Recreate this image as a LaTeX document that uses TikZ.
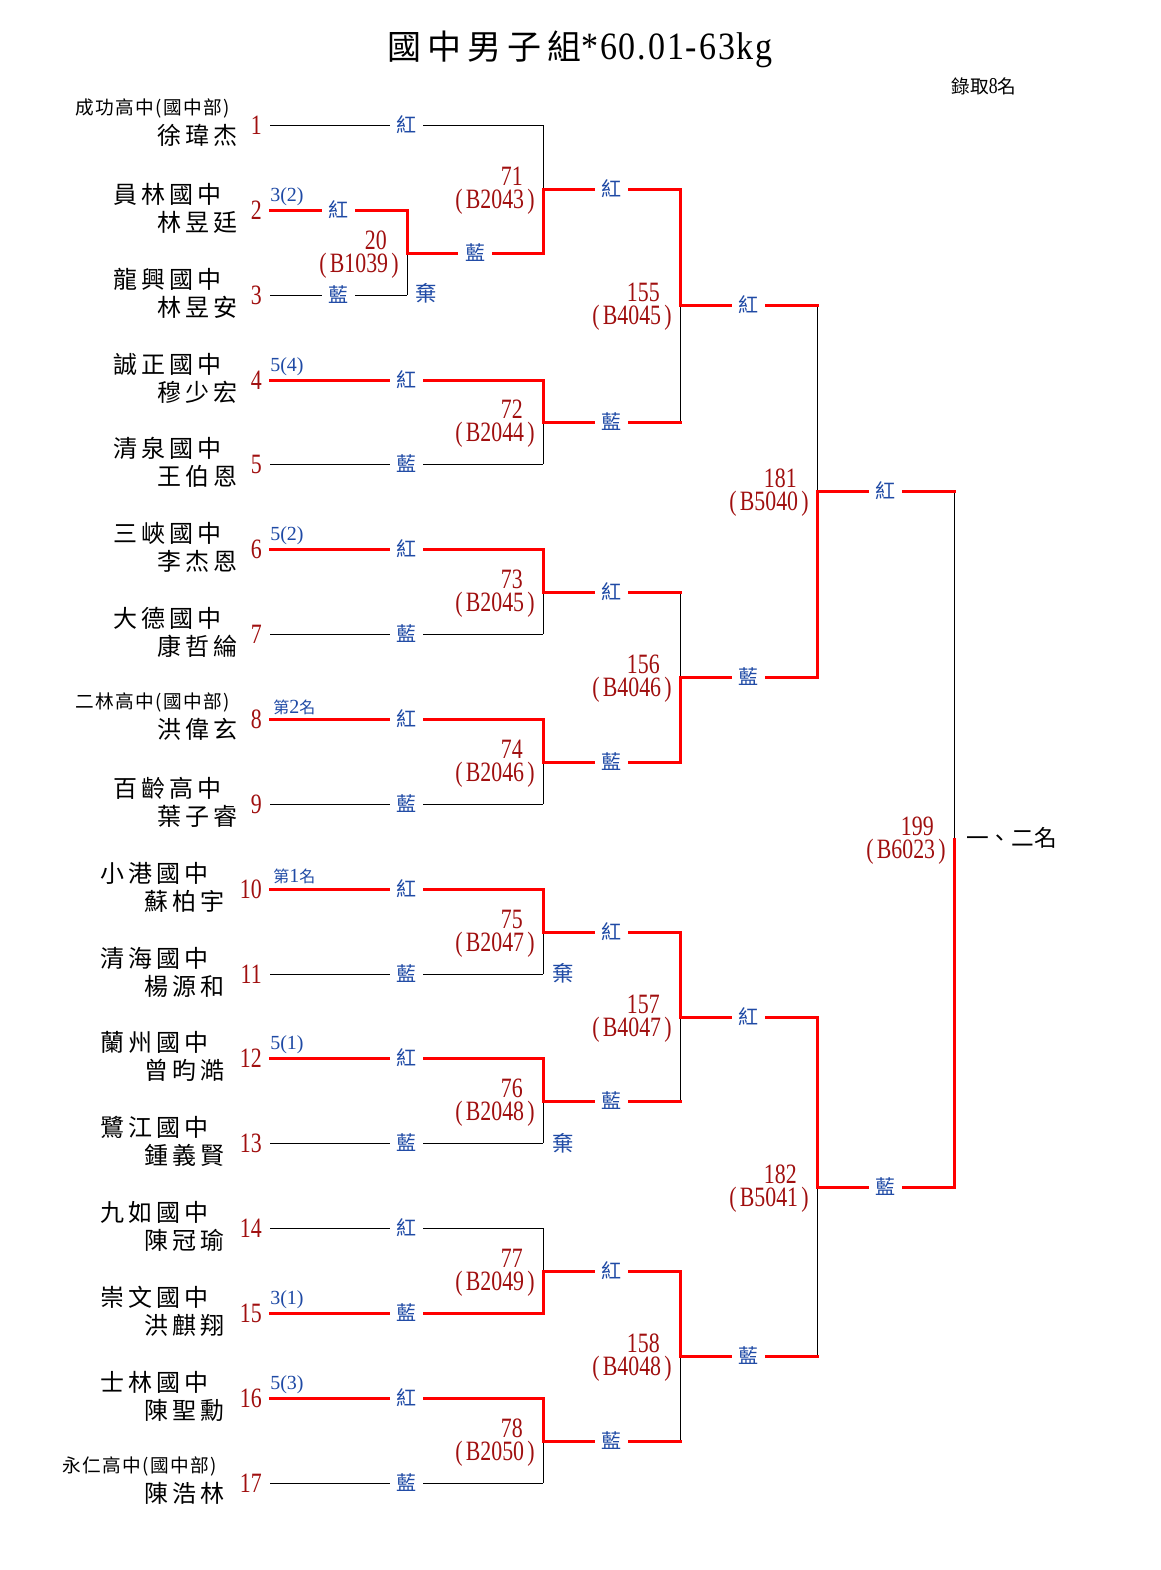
\documentclass[tikz,border=0pt]{standalone}
\usepackage{fontspec}
\setmainfont{Liberation Serif}
\newfontfamily\cjk{Noto Sans CJK TC}
\newfontfamily\numf[FakeStretch=0.78]{Liberation Serif}
\newfontfamily\titf[FakeStretch=0.88]{Liberation Serif}
\definecolor{lblue}{HTML}{1F4AA5}
\definecolor{dred}{HTML}{A00F0F}
\makeatletter
\newcommand\lsp[2]{\def\ls@gap{\hspace{#1}}\ls@loop#2\@nil}
\def\ls@loop#1{\ifx#1\@nil\else#1\expandafter\ls@next\fi}
\def\ls@next#1{\ifx#1\@nil\else\ls@gap#1\expandafter\ls@next\fi}
\makeatother
\tikzset{
  win/.style={draw=red, line width=2.25pt, line cap=rect},
  lose/.style={draw=black, line width=0.75pt},
  lab/.style={fill=white, inner xsep=5pt, inner ysep=1pt, text=lblue, font=\cjk\fontsize{15}{15}\selectfont},
  qi/.style={text=lblue, inner sep=0pt, font=\cjk\fontsize{16}{16}\selectfont},
  numst/.style={text=dred, anchor=east, inner sep=0pt, font=\numf\fontsize{21}{21}\selectfont},
  namest/.style={anchor=east, inner sep=0pt, font=\cjk\fontsize{18}{18}\selectfont},
  schsmall/.style={anchor=east, inner sep=0pt, font=\cjk\fontsize{14}{14}\selectfont},
  seed/.style={anchor=west, inner sep=0pt, text=lblue, font=\fontsize{15}{15}\selectfont},
}
% player: id, y, name right x, school, name
\newcommand\pl[5]{%
  \coordinate (e#1) at (270,#2);
  \node[numst] (n#1) at (262,#2) {#1};
  \node[namest] (s#1) at (#3-16,#2-16) {\lsp{3pt}{#4}};
  \node[namest] (p#1) at (#3,#2+12) {\lsp{3pt}{#5}};}
\newcommand\pls[5]{%
  \coordinate (e#1) at (270,#2);
  \node[numst] (n#1) at (262,#2) {#1};
  \node[schsmall] (s#1) at (#3-8,#2-17) {\lsp{1pt}{#4}};
  \node[namest] (p#1) at (#3,#2+10) {\lsp{3pt}{#5}};}
% match: id, x, top, mid, bottom, code
\newcommand\mt[6]{%
  \coordinate (m#1t) at (#2,#3);
  \coordinate (m#1m) at (#2,#4);
  \coordinate (m#1b) at (#2,#5);
  \node[numst] (l#1) at (#2-20,#4-13) {#1};
  \node[numst] (c#1) at (#2-8,#4+13) {(\hspace{2.5pt}#6\hspace{2.5pt})};}
\begin{document}
\begin{tikzpicture}[x=0.75pt,y=-0.75pt]
\fill[white] (0,0) rectangle (1160,1570);
\useasboundingbox (0,0) rectangle (1160,1570);

% title
\node[inner sep=0pt] (title) at (580,49) {{\cjk\fontsize{25.5}{25.5}\selectfont\lsp{4.5pt}{國中男子組}}{\titf\fontsize{29}{29}\selectfont\lsp{1.4pt}{*60.01-63kg}}};
\node[inner sep=0pt] (quota) at (984,86) {{\cjk\fontsize{14}{14}\selectfont 錄取}{\numf\fontsize{17}{17}\selectfont 8}{\cjk\fontsize{14}{14}\selectfont 名}};

% players
\pls{1}{125}{238}{成功高中(國中部)}{徐瑋杰}
\pl{2}{210}{238}{員林國中}{林昱廷}
\pl{3}{295}{238}{龍興國中}{林昱安}
\pl{4}{380}{238}{誠正國中}{穆少宏}
\pl{5}{464}{238}{清泉國中}{王伯恩}
\pl{6}{549}{238}{三峽國中}{李杰恩}
\pl{7}{634}{238}{大德國中}{康哲綸}
\pls{8}{719}{238}{二林高中(國中部)}{洪偉玄}
\pl{9}{804}{238}{百齡高中}{葉子睿}
\pl{10}{889}{225}{小港國中}{蘇柏宇}
\pl{11}{974}{225}{清海國中}{楊源和}
\pl{12}{1058}{225}{蘭州國中}{曾昀澔}
\pl{13}{1143}{225}{鷺江國中}{鍾義賢}
\pl{14}{1228}{225}{九如國中}{陳冠瑜}
\pl{15}{1313}{225}{崇文國中}{洪麒翔}
\pl{16}{1398}{225}{士林國中}{陳聖勳}
\pls{17}{1483}{225}{永仁高中(國中部)}{陳浩林}

% seeds
\node[seed] (sd2) at (270,197) {3(2)};
\node[seed] (sd4) at (270,367) {5(4)};
\node[seed] (sd6) at (270,536) {5(2)};
\node[seed] (sd8) at (273,707) {{\cjk\fontsize{12}{12}\selectfont 第}2{\cjk\fontsize{12}{12}\selectfont 名}};
\node[seed] (sd10) at (273,876) {{\cjk\fontsize{12}{12}\selectfont 第}1{\cjk\fontsize{12}{12}\selectfont 名}};
\node[seed] (sd12) at (270,1045) {5(1)};
\node[seed] (sd15) at (270,1300) {3(1)};
\node[seed] (sd16) at (270,1385) {5(3)};

% matches
\mt{20}{407}{210}{253}{295}{B1039}
\mt{71}{543}{125}{189}{253}{B2043}
\mt{72}{543}{380}{422}{464}{B2044}
\mt{73}{543}{549}{592}{634}{B2045}
\mt{74}{543}{719}{762}{804}{B2046}
\mt{75}{543}{889}{932}{974}{B2047}
\mt{76}{543}{1058}{1101}{1143}{B2048}
\mt{77}{543}{1228}{1271}{1313}{B2049}
\mt{78}{543}{1398}{1441}{1483}{B2050}
\mt{155}{680}{189}{305}{422}{B4045}
\mt{156}{680}{592}{677}{762}{B4046}
\mt{157}{680}{932}{1017}{1101}{B4047}
\mt{158}{680}{1271}{1356}{1441}{B4048}
\mt{181}{817}{305}{491}{677}{B5040}
\mt{182}{817}{1017}{1187}{1356}{B5041}
\mt{199}{954}{491}{839}{1187}{B6023}

% verticals
\draw[lose] (m20m) -- (m20b);
\draw[lose] (m71t) -- (m71m);
\draw[lose] (m72m) -- (m72b);
\draw[lose] (m73m) -- (m73b);
\draw[lose] (m74m) -- (m74b);
\draw[lose] (m75m) -- (m75b);
\draw[lose] (m76m) -- (m76b);
\draw[lose] (m77t) -- (m77m);
\draw[lose] (m78m) -- (m78b);
\draw[lose] (m155m) -- (m155b);
\draw[lose] (m156t) -- (m156m);
\draw[lose] (m157m) -- (m157b);
\draw[lose] (m158m) -- (m158b);
\draw[lose] (m181t) -- (m181m);
\draw[lose] (m182m) -- (m182b);
\draw[lose] (m199t) -- (m199m);

\draw[win] (m20t) -- (m20m);
\draw[win] (m71m) -- (m71b);
\draw[win] (m72t) -- (m72m);
\draw[win] (m73t) -- (m73m);
\draw[win] (m74t) -- (m74m);
\draw[win] (m75t) -- (m75m);
\draw[win] (m76t) -- (m76m);
\draw[win] (m77m) -- (m77b);
\draw[win] (m78t) -- (m78m);
\draw[win] (m155t) -- (m155m);
\draw[win] (m156m) -- (m156b);
\draw[win] (m157t) -- (m157m);
\draw[win] (m158t) -- (m158m);
\draw[win] (m181m) -- (m181b);
\draw[win] (m182t) -- (m182m);
\draw[win] (m199m) -- (m199b);

% entry lines
\draw[lose] (e1) -- node[lab]{紅} (m71t);
\draw[win] (e2) -- node[lab]{紅} (m20t);
\draw[lose] (e3) -- node[lab]{藍} (m20b);
\draw[win] (e4) -- node[lab]{紅} (m72t);
\draw[lose] (e5) -- node[lab]{藍} (m72b);
\draw[win] (e6) -- node[lab]{紅} (m73t);
\draw[lose] (e7) -- node[lab]{藍} (m73b);
\draw[win] (e8) -- node[lab]{紅} (m74t);
\draw[lose] (e9) -- node[lab]{藍} (m74b);
\draw[win] (e10) -- node[lab]{紅} (m75t);
\draw[lose] (e11) -- node[lab]{藍} (m75b);
\draw[win] (e12) -- node[lab]{紅} (m76t);
\draw[lose] (e13) -- node[lab]{藍} (m76b);
\draw[lose] (e14) -- node[lab]{紅} (m77t);
\draw[win] (e15) -- node[lab]{藍} (m77b);
\draw[win] (e16) -- node[lab]{紅} (m78t);
\draw[lose] (e17) -- node[lab]{藍} (m78b);

% winner lines
\draw[win] (m20m) -- node[lab]{藍} (m71b);
\draw[win] (m71m) -- node[lab]{紅} (m155t);
\draw[win] (m72m) -- node[lab]{藍} (m155b);
\draw[win] (m73m) -- node[lab]{紅} (m156t);
\draw[win] (m74m) -- node[lab]{藍} (m156b);
\draw[win] (m75m) -- node[lab]{紅} (m157t);
\draw[win] (m76m) -- node[lab]{藍} (m157b);
\draw[win] (m77m) -- node[lab]{紅} (m158t);
\draw[win] (m78m) -- node[lab]{藍} (m158b);
\draw[win] (m155m) -- node[lab]{紅} (m181t);
\draw[win] (m156m) -- node[lab]{藍} (m181b);
\draw[win] (m157m) -- node[lab]{紅} (m182t);
\draw[win] (m158m) -- node[lab]{藍} (m182b);
\draw[win] (m181m) -- node[lab]{紅} (m199t);
\draw[win] (m182m) -- node[lab]{藍} (m199b);

% forfeits
\node[qi] (q20) at (426,293) {棄};
\node[qi] (q75) at (563,973) {棄};
\node[qi] (q76) at (563,1143) {棄};

% final place
\node[anchor=west, inner sep=0pt, font=\cjk\fontsize{17}{17}\selectfont] (place) at (966,838) {一、二名};
\end{tikzpicture}
\end{document}
